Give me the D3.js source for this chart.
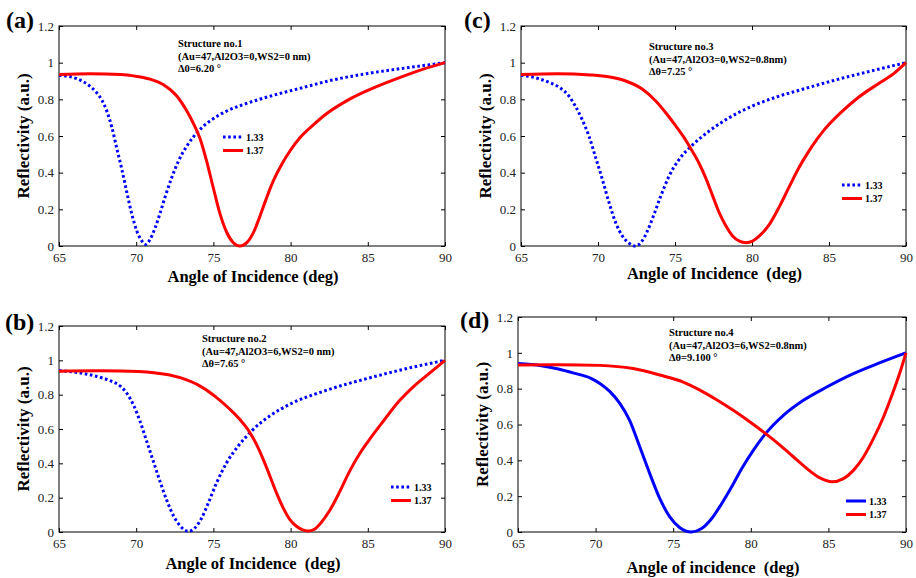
<!DOCTYPE html>
<html>
<head>
<meta charset="utf-8">
<script src="https://cdn.jsdelivr.net/npm/d3@7"></script>
<style>
  body { margin: 0; background: #fff; }
</style>
</head>
<body>
<svg id="chart" width="916" height="578"></svg>
<script>
const angleTicks = [65, 70, 75, 80, 85, 90];
const reflTicks = [0, 0.2, 0.4, 0.6, 0.8, 1, 1.2];
const seriesNames = ["1.33", "1.37"];

// [angle (deg), reflectivity]
const a133 = [[65, 0.932], [66.1, 0.914], [67, 0.872], [67.4, 0.84], [67.78, 0.795], [68.1, 0.735], [68.43, 0.645],
  [68.75, 0.53], [69.07, 0.418], [69.4, 0.29], [69.72, 0.173], [70.04, 0.082], [70.37, 0.027], [70.58, 0.008],
  [70.9, 0.036], [71.23, 0.1], [71.55, 0.18], [71.88, 0.27], [72.3, 0.373], [72.74, 0.464], [73.28, 0.545],
  [74.03, 0.627], [74.78, 0.682], [75.86, 0.736], [77.16, 0.778], [78.88, 0.822], [80.6, 0.86], [82.7, 0.905],
  [84.9, 0.94], [87.1, 0.967], [90, 1.0]];
const a137 = [[65, 0.936], [67, 0.94], [69, 0.935], [69.83, 0.928], [70.9, 0.91], [71.77, 0.88], [72.63, 0.818],
  [73.28, 0.736], [73.71, 0.668], [74.14, 0.585], [74.57, 0.46], [75, 0.315], [75.43, 0.175], [75.86, 0.075],
  [76.29, 0.018], [76.72, 0.0], [77.16, 0.018], [77.59, 0.073], [78.02, 0.164], [78.45, 0.264], [78.88, 0.355],
  [79.42, 0.445], [79.96, 0.518], [80.6, 0.59], [81.4, 0.655], [82.3, 0.72], [83.8, 0.8], [85.3, 0.86],
  [87.1, 0.92], [88.6, 0.965], [90, 1.0]];

const b133 = [[65, 0.94], [66.5, 0.925], [67.5, 0.905], [68.3, 0.882], [68.99, 0.848], [69.42, 0.805], [69.85, 0.735],
  [70.28, 0.637], [70.71, 0.52], [71.14, 0.404], [71.57, 0.287], [72, 0.18], [72.42, 0.093], [72.85, 0.035],
  [73.39, 0.004], [73.82, 0.025], [74.25, 0.083], [74.68, 0.171], [75.21, 0.287], [75.86, 0.404], [76.61, 0.501],
  [77.47, 0.588], [78.65, 0.676], [80.15, 0.753], [81.87, 0.812], [83.8, 0.866], [85, 0.895], [86.5, 0.93],
  [88, 0.962], [90, 1.0]];
const b137 = [[65, 0.937], [67.6, 0.939], [68.99, 0.938], [71.14, 0.928], [72.85, 0.899], [74.14, 0.85],
  [75.21, 0.783], [76.07, 0.715], [76.72, 0.655], [77.36, 0.58], [77.79, 0.51], [78.22, 0.425], [78.65, 0.328],
  [79.08, 0.229], [79.51, 0.142], [79.94, 0.074], [80.36, 0.035], [80.79, 0.012], [81.12, 0.006], [81.55, 0.016],
  [81.97, 0.054], [82.51, 0.122], [83.15, 0.229], [83.8, 0.35], [84.5, 0.46], [85, 0.525], [86, 0.645],
  [87, 0.76], [88, 0.85], [89, 0.925], [90, 1.0]];

const c133 = [[65, 0.932], [66.1, 0.914], [66.9, 0.89], [67.5, 0.865], [68.11, 0.818], [68.55, 0.76], [68.98, 0.688],
  [69.41, 0.6], [69.85, 0.482], [70.28, 0.364], [70.72, 0.236], [71.15, 0.127], [71.58, 0.055], [72.02, 0.015],
  [72.41, 0.0], [72.78, 0.018], [73.21, 0.082], [73.64, 0.173], [74.08, 0.273], [74.62, 0.382], [75.27, 0.473],
  [76.1, 0.548], [77.22, 0.627], [78.52, 0.7], [80.04, 0.764], [81.56, 0.812], [83.08, 0.85], [85.8, 0.914],
  [87.9, 0.958], [90, 1.0]];
const c137 = [[65, 0.936], [67.4, 0.94], [69.5, 0.933], [70.28, 0.927], [71.8, 0.9], [72.89, 0.855], [73.75, 0.791],
  [74.4, 0.727], [75.05, 0.655], [75.6, 0.59], [76, 0.535], [76.57, 0.45], [77, 0.37], [77.44, 0.275],
  [77.87, 0.182], [78.31, 0.109], [78.74, 0.055], [79.18, 0.027], [79.61, 0.018], [80.04, 0.027], [80.48, 0.055],
  [81.13, 0.118], [81.78, 0.215], [82.43, 0.325], [83.08, 0.432], [83.6, 0.505], [84.2, 0.58], [84.7, 0.635],
  [85.8, 0.73], [86.9, 0.81], [88.2, 0.885], [89.2, 0.94], [90, 1.0]];

const d133 = [[65, 0.94], [66.5, 0.928], [67.6, 0.91], [68.6, 0.887], [69.7, 0.858], [70.3, 0.828], [70.91, 0.785],
  [71.56, 0.718], [72.2, 0.622], [72.85, 0.474], [73.49, 0.326], [74.14, 0.186], [74.78, 0.084], [75.43, 0.024],
  [76.18, 0.0], [76.83, 0.019], [77.47, 0.074], [78.12, 0.158], [78.76, 0.251], [79.41, 0.353], [80.16, 0.456],
  [81.02, 0.556], [82.1, 0.651], [83.39, 0.735], [84.89, 0.809], [86.61, 0.884], [88.33, 0.945], [90, 1.0]];
const d137 = [[65, 0.932], [67.6, 0.934], [70.27, 0.93], [72.42, 0.912], [74.14, 0.876], [75.65, 0.837],
  [76.72, 0.792], [77.8, 0.738], [78.87, 0.679], [79.95, 0.614], [81.02, 0.545], [81.88, 0.485], [82.74, 0.42],
  [83.6, 0.355], [84.46, 0.302], [85.22, 0.28], [85.97, 0.298], [86.61, 0.344], [87.26, 0.419], [87.9, 0.521],
  [88.55, 0.642], [89.09, 0.763], [89.62, 0.893], [90, 1.0]];

const panels = [
  { tag: "(a)", s133: a133, s137: a137, dotted: true,
    note: ["Structure no.1", "(Au=47,Al2O3=0,WS2=0 nm)", "Δ0=6.20 °"],
    xTitle: "Angle of Incidence (deg)",
    box: [59, 445, 26, 246], tagPos: [6, 28], notePos: [178, 47], legPos: [223, 137], xTitleY: 282 },
  { tag: "(c)", s133: c133, s137: c137, dotted: true,
    note: ["Structure no.3", "(Au=47,Al2O3=0,WS2=0.8nm)", "Δθ=7.25 °"],
    xTitle: "Angle of Incidence\u00a0 (deg)",
    box: [521, 906, 26, 246], tagPos: [464, 28], notePos: [649, 50], legPos: [842, 185], xTitleY: 279 },
  { tag: "(b)", s133: b133, s137: b137, dotted: true,
    note: ["Structure no.2", "(Au=47,Al2O3=6,WS2=0 nm)", "Δθ=7.65 °"],
    xTitle: "Angle of Incidence\u00a0 (deg)",
    box: [59, 445, 326, 532], tagPos: [5, 330], notePos: [202, 342], legPos: [391, 487], xTitleY: 569 },
  { tag: "(d)", s133: d133, s137: d137, dotted: false,
    note: ["Structure no.4", "(Au=47,Al2O3=6,WS2=0.8nm)", "Δθ=9.100 °"],
    xTitle: "Angle of incidence\u00a0 (deg)",
    box: [518, 906, 317, 532], tagPos: [460, 328], notePos: [669, 336], legPos: [846, 501], xTitleY: 573 }
];

const FONT = "'Liberation Serif', Tinos, 'Times New Roman', Times, 'DejaVu Serif', serif";

const svg = d3.select("#chart").attr("font-family", FONT);
svg.append("rect").attr("width", 916).attr("height", 578).attr("fill", "#fff");

panels.forEach(p => {
  const [left, right, top, bottom] = p.box;
  const x = d3.scaleLinear().domain([65, 90]).range([left, right]);
  const y = d3.scaleLinear().domain([0, 1.2]).range([bottom, top]);
  const g = svg.append("g");

  const styleAxis = sel => {
    sel.attr("font-family", FONT);
    sel.select(".domain").remove();
    sel.selectAll("line").attr("stroke", "#000");
    sel.selectAll("text").attr("font-size", 13).attr("fill", "#222");
  };

  g.append("g").attr("transform", `translate(0,${bottom})`)
    .call(d3.axisBottom(x).tickValues(angleTicks).tickSize(-4).tickPadding(7))
    .call(styleAxis);
  g.append("g").attr("transform", `translate(0,${top})`)
    .call(d3.axisTop(x).tickValues(angleTicks).tickSize(-4).tickFormat(""))
    .call(styleAxis);
  g.append("g").attr("transform", `translate(${left},0)`)
    .call(d3.axisLeft(y).tickValues(reflTicks).tickSize(-4).tickPadding(5).tickFormat(d3.format("~g")))
    .call(styleAxis);
  g.append("g").attr("transform", `translate(${right},0)`)
    .call(d3.axisRight(y).tickValues(reflTicks).tickSize(-4).tickFormat(""))
    .call(styleAxis);

  g.append("rect")
    .attr("x", left).attr("y", top)
    .attr("width", right - left).attr("height", bottom - top)
    .attr("fill", "none").attr("stroke", "#000").attr("stroke-width", 1);

  const line = d3.line()
    .x(d => x(d[0]))
    .y(d => y(d[1]))
    .curve(d3.curveMonotoneX);

  const series = [
    { name: seriesNames[0], data: p.s133, color: "#0000ff", dash: p.dotted ? "2.6,2.6" : null },
    { name: seriesNames[1], data: p.s137, color: "#ff0000", dash: null }
  ];

  g.selectAll("path.curve")
    .data(series)
    .join("path")
    .attr("class", "curve")
    .attr("d", d => line(d.data))
    .attr("fill", "none")
    .attr("stroke", d => d.color)
    .attr("stroke-width", 3)
    .attr("stroke-dasharray", d => d.dash);

  // legend
  const [lx, ly] = p.legPos;
  const leg = g.selectAll("g.leg")
    .data(series)
    .join("g")
    .attr("class", "leg")
    .attr("transform", (d, i) => `translate(${lx},${ly + i * 13.5})`);
  leg.append("line")
    .attr("x1", 0).attr("x2", 20)
    .attr("stroke", d => d.color)
    .attr("stroke-width", 3)
    .attr("stroke-dasharray", d => d.dash);
  leg.append("text")
    .attr("x", 23).attr("y", 3.5)
    .attr("font-size", 10).attr("font-weight", "bold")
    .text(d => d.name);

  // annotation
  g.append("text")
    .attr("font-size", 10.5).attr("font-weight", "bold")
    .selectAll("tspan")
    .data(p.note)
    .join("tspan")
    .attr("x", p.notePos[0])
    .attr("y", (d, i) => p.notePos[1] + i * 12.7)
    .text(d => d);

  // axis titles
  g.append("text")
    .attr("x", (left + right) / 2 + 1).attr("y", p.xTitleY)
    .attr("text-anchor", "middle")
    .attr("font-size", 16.5).attr("font-weight", "bold")
    .text(p.xTitle);
  g.append("text")
    .attr("transform", `translate(${left - 30},${(top + bottom) / 2}) rotate(-90)`)
    .attr("text-anchor", "middle")
    .attr("font-size", 17).attr("font-weight", "bold")
    .text("Reflectivity (a.u.)");

  // panel tag
  g.append("text")
    .attr("x", p.tagPos[0]).attr("y", p.tagPos[1])
    .attr("font-size", 24).attr("font-weight", "bold")
    .text(p.tag);
});
</script>
</body>
</html>
